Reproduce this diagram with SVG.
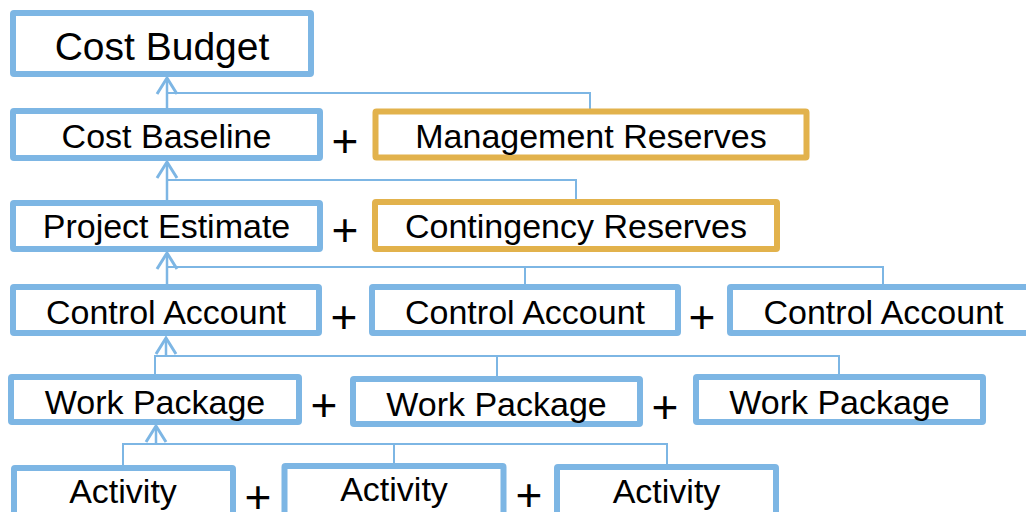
<svg xmlns="http://www.w3.org/2000/svg" width="1026" height="512" viewBox="0 0 1026 512">
<style>
.b{fill:#fff;stroke:#7DB6E4;stroke-width:6}
.o{fill:#fff;stroke:#E2B24C;stroke-width:6}
.t{font-family:"Liberation Sans",Arial,sans-serif;font-size:34px;fill:#000;text-anchor:middle}
.big{font-size:39px}
.p{font-family:"Liberation Sans",Arial,sans-serif;font-size:46px;fill:#000;text-anchor:middle}
.c{fill:none;stroke:#7DB6E4;stroke-width:2}
.a{fill:none;stroke:#7DB6E4;stroke-width:2.5;marker-end:url(#arr)}
</style>
<defs>
<marker id="arr" markerUnits="userSpaceOnUse" markerWidth="40" markerHeight="40" refX="0" refY="0" orient="auto" overflow="visible">
<path d="M-16,-10 L0,0 L-16,10" fill="none" stroke="#7DB6E4" stroke-width="3"/>
</marker>
</defs>
<rect width="1026" height="512" fill="#fff"/>
<g id="connectors">
<path class="c" d="M590,111 V93 H167"/>
<path class="a" d="M167,111 V78"/>
<path class="c" d="M576,202 V180 H167"/>
<path class="a" d="M167,203 V162"/>
<path class="c" d="M167,267 H883 V287 M525,267 V287"/>
<path class="a" d="M167,287 V253"/>
<path class="c" d="M155,377 V356 H839 V377 M497,356 V379"/>
<path class="a" d="M166,356 V338"/>
<path class="c" d="M123,465 V444 H667 V464 M394,444 V466"/>
<path class="a" d="M156,444 V426"/>
</g>
<g id="cost-budget"><rect class="b" x="13" y="13" width="298" height="61" rx="1"/><text class="t big" x="162" y="60">Cost Budget</text></g>
<g id="cost-baseline"><rect class="b" x="13" y="111" width="307" height="47" rx="1"/><text class="t" x="166.5" y="148">Cost Baseline</text></g>
<g id="management-reserves"><rect class="o" x="375.5" y="111.5" width="431" height="46" rx="1"/><text class="t" x="591" y="148">Management Reserves</text></g>
<g id="project-estimate"><rect class="b" x="13" y="203" width="307" height="46" rx="1"/><text class="t" x="166.5" y="238">Project Estimate</text></g>
<g id="contingency-reserves"><rect class="o" x="375" y="202" width="402" height="47" rx="1"/><text class="t" x="576" y="238">Contingency Reserves</text></g>
<g id="control-account-1"><rect class="b" x="13" y="287" width="306" height="46" rx="1"/><text class="t" x="166" y="324">Control Account</text></g>
<g id="control-account-2"><rect class="b" x="372" y="287" width="306" height="46" rx="1"/><text class="t" x="525" y="324">Control Account</text></g>
<g id="control-account-3"><rect class="b" x="730" y="287" width="306" height="46" rx="1"/><text class="t" x="883.5" y="324">Control Account</text></g>
<g id="work-package-1"><rect class="b" x="11" y="377" width="288" height="45" rx="1"/><text class="t" x="155" y="414">Work Package</text></g>
<g id="work-package-2"><rect class="b" x="353" y="379" width="287" height="45" rx="1"/><text class="t" x="496.5" y="416">Work Package</text></g>
<g id="work-package-3"><rect class="b" x="696" y="377" width="287" height="45" rx="1"/><text class="t" x="839.5" y="414">Work Package</text></g>
<g id="activity-1"><rect class="b" x="14" y="468" width="219" height="60" rx="1"/><text class="t" x="123" y="503">Activity</text></g>
<g id="activity-2"><rect class="b" x="284.5" y="466" width="219" height="60" rx="1"/><text class="t" x="394" y="501">Activity</text></g>
<g id="activity-3"><rect class="b" x="557" y="467" width="219" height="60" rx="1"/><text class="t" x="666.5" y="503">Activity</text></g>
<g id="plus-signs">
<text class="p" x="345" y="157">+</text>
<text class="p" x="345" y="246">+</text>
<text class="p" x="344" y="333">+</text>
<text class="p" x="702" y="333">+</text>
<text class="p" x="324" y="421">+</text>
<text class="p" x="665" y="423">+</text>
<text class="p" x="258" y="513">+</text>
<text class="p" x="529" y="511">+</text>
</g>
</svg>
